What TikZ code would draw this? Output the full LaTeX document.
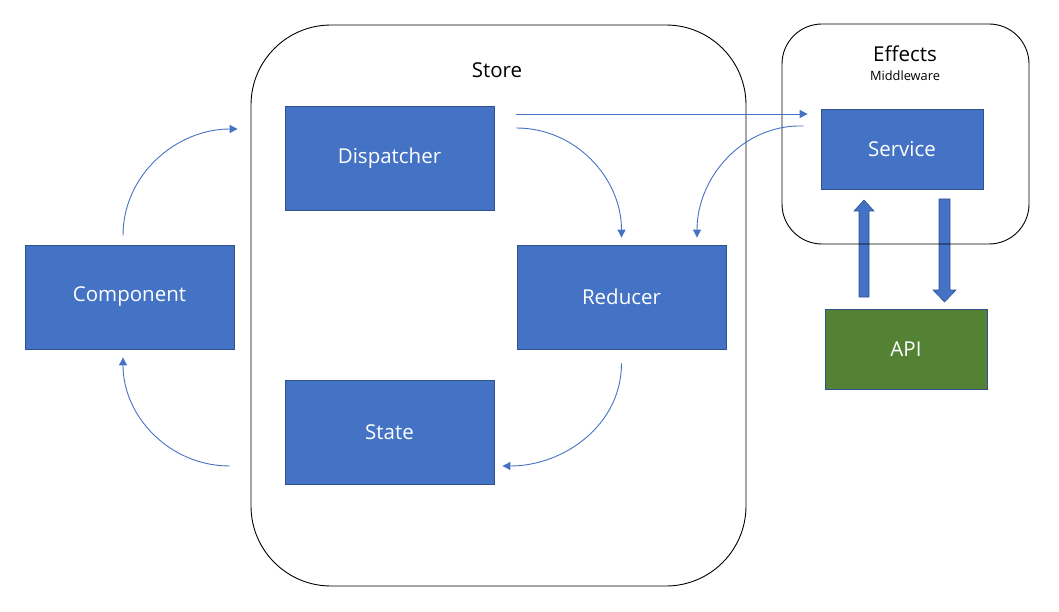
\documentclass[tikz,border=0pt]{standalone}
\usepackage{fontspec}
\setmainfont{Open Sans}
\usetikzlibrary{arrows.meta,calc}
\definecolor{boxblue}{HTML}{4472C4}
\definecolor{boxedge}{HTML}{2F528F}
\definecolor{apigreen}{HTML}{548235}
\tikzset{
  block/.style={draw=boxedge, fill=boxblue, line width=0.8pt, text=white,
    minimum width=209pt, minimum height=104pt, inner sep=0pt,
    font=\fontsize{20.5}{23}\selectfont},
  smallblock/.style={block, minimum width=162pt, minimum height=80pt},
  container/.style={draw=black, line width=0.9pt, inner sep=0pt},
  flow/.style={draw=boxblue, line width=0.9pt, -{Triangle[length=8pt,width=8pt]}},
  fat/.style={draw=boxedge, fill=boxblue, line width=0.6pt},
  title/.style={font=\fontsize{20.5}{23}\selectfont, text=black}
}
\begin{document}
\begin{tikzpicture}[x=1pt,y=-1pt]
\useasboundingbox (0,0) rectangle (1059,612);
% blocks
\node[block] (disp) at (389.5,158) {Dispatcher};
\node[block] (red) at (621.5,297) {Reducer};
\node[block] (state) at (389.5,432) {State};
\node[block] (comp) at (129.5,297) {Component};
\node[smallblock] (serv) at (902,149) {Service};
\node[smallblock, fill=apigreen] (api) at (906,349) {API};
% thick arrows between Service and API
\draw[fat] (859,297) -- (859,211) -- (854,211) -- (864,200) -- (874,211) -- (869,211) -- (869,297) -- cycle;
\draw[fat] (939,199) -- (950,199) -- (950,290) -- (956,290) -- (944.5,302) -- (933,290) -- (939,290) -- cycle;
% containers
\node[container, rounded corners=80pt, minimum width=495pt, minimum height=561pt] (store) at (498.5,305.5) {};
\node[title] (storelbl) at (497,70) {Store};
\node[container, rounded corners=40pt, minimum width=247pt, minimum height=220pt] (eff) at (905.5,134) {};
\node[font=\fontsize{20.5}{23}\selectfont] (efflbl) at (905,54) {Effects};
\node[font=\fontsize{12.8}{15}\selectfont] (mwlbl) at (905,76) {Middleware};
% thin connectors
\coordinate (c1) at ($(comp.north)+(-6.5,-9)$);
\coordinate (d0) at ($(disp.west)+(-47,-29)$);
\draw[flow] (c1) to[out=90,in=180] (d0);
\coordinate (s0) at ($(state.west)+(-55,34)$);
\coordinate (c2) at ($(comp.south)+(-6.5,8)$);
\draw[flow] (s0) to[out=180,in=-90] (c2);
\coordinate (d1) at ($(disp.east)+(22,-44)$);
\coordinate (sv1) at ($(serv.west)+(-13,-35)$);
\draw[flow] (d1) -- (sv1);
\coordinate (d2) at ($(disp.east)+(22,-30)$);
\coordinate (r1) at ($(red.north)+(0,-7)$);
\draw[flow] (d2) to[out=0,in=90] (r1);
\coordinate (sv2) at ($(serv.west)+(-17,-23)$);
\coordinate (r2) at ($(red.north)+(75.5,-7)$);
\draw[flow] (sv2) to[out=178,in=90] (r2);
\coordinate (r3) at ($(red.south)+(0,14)$);
\coordinate (s1) at ($(state.east)+(8,34)$);
\draw[flow] (r3) to[out=-90,in=0] (s1);
\end{tikzpicture}
\end{document}
